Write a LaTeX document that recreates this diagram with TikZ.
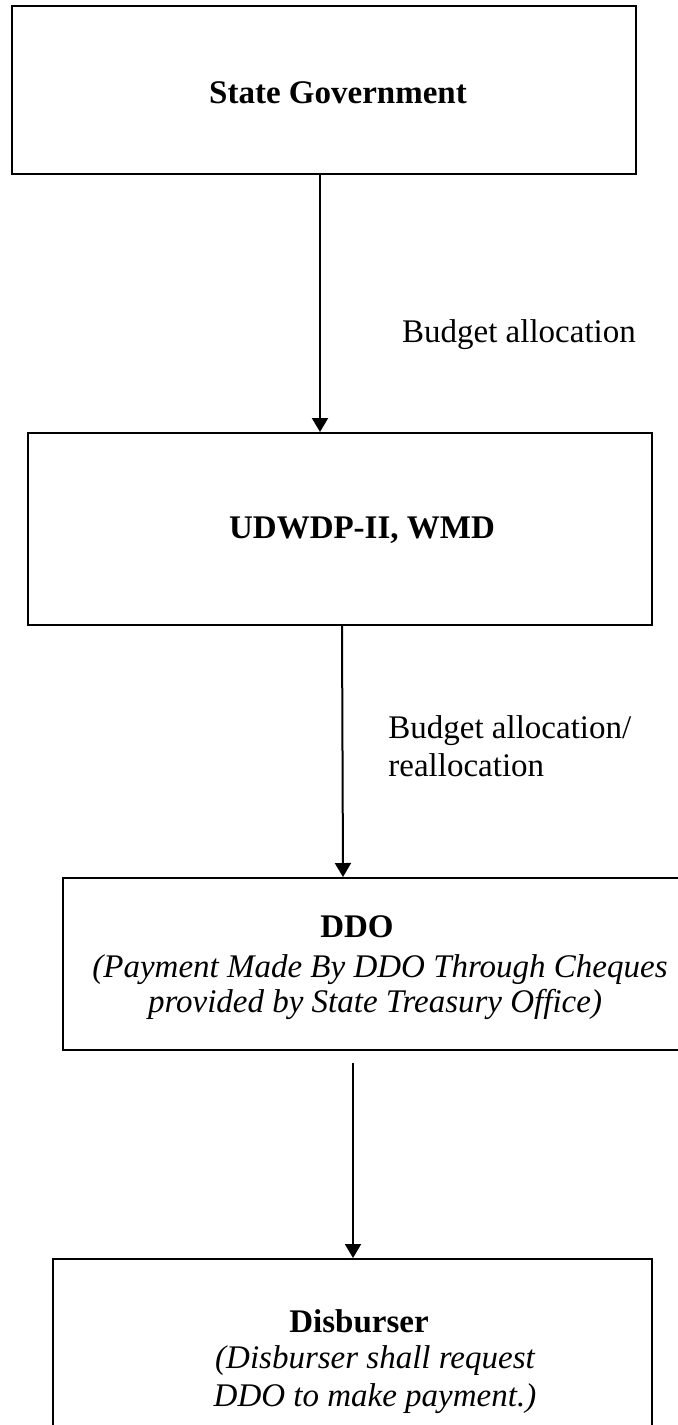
\documentclass[tikz,border=0pt]{standalone}
\usepackage{fontspec}
\setmainfont{Liberation Serif}
\usetikzlibrary{arrows.meta}
\begin{document}
\begin{tikzpicture}[x=0.5pt,y=-0.5pt,
  box/.style={draw=black,line width=1pt,rectangle,inner sep=0pt},
  txt/.style={anchor=base,inner sep=0pt,font=\fontsize{16.5}{19}\selectfont},
  arr/.style={line width=1pt,-{Triangle[width=8pt,length=7pt]}}]
\useasboundingbox (0,0) rectangle (678,1425);
\clip (0,0) rectangle (678,1425);
% boxes
\node[box,minimum width=312pt,minimum height=84pt] (b1) at (324,90) {};
\node[box,minimum width=312pt,minimum height=96pt] (b2) at (340,529) {};
\node[box,minimum width=318.5pt,minimum height=86pt] (b3) at (381.5,964) {};
\node[box,minimum width=299.5pt,minimum height=90.5pt] (b4) at (352.5,1349.5) {};
% box texts
\node[txt] (t1) at (338,103) {\bfseries State Government};
\node[txt] (t2) at (362,538) {\bfseries UDWDP-II, WMD};
\node[txt] (t3a) at (357,937) {\bfseries DDO};
\node[txt] (t3b) at (380,977) {\itshape (Payment Made By DDO Through Cheques};
\node[txt] (t3c) at (375,1012) {\itshape provided by State Treasury Office)};
\node[txt] (t4a) at (359,1332) {\bfseries Disburser};
\node[txt] (t4b) at (375,1368) {\itshape (Disburser shall request};
\node[txt] (t4c) at (375,1406) {\itshape DDO to make payment.)};
% edge labels
\node[txt] (l1) at (519,342) {Budget allocation};
\node[txt,anchor=base west] (l2a) at (388,738) {Budget allocation/};
\node[txt,anchor=base west] (l2b) at (388,776) {reallocation};
% connectors
\coordinate (c1) at (320,0);
\coordinate (c2a) at (342,0);
\coordinate (c2b) at (343,0);
\coordinate (c3) at (353,1063);
\draw[arr] (b1.south -| c1) -- (b2.north -| c1);
\draw[arr] (b2.south -| c2a) -- (b3.north -| c2b);
\draw[arr] (c3) -- (b4.north -| c3);
\end{tikzpicture}
\end{document}
